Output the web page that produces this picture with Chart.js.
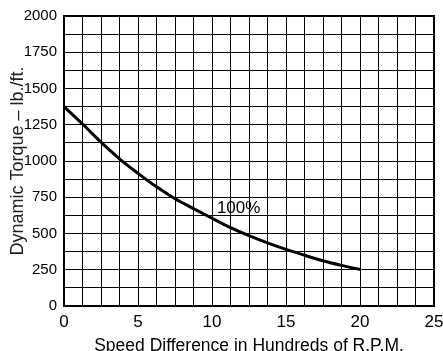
<!DOCTYPE html>
<html>
<head>
<meta charset="utf-8">
<script src="https://cdn.jsdelivr.net/npm/chart.js@4.4.1/dist/chart.umd.min.js"></script>
<style>
  html, body { margin: 0; padding: 0; background: #fff; }
  #wrap { width: 443px; height: 351px; }
</style>
</head>
<body>
<div id="wrap"><canvas id="grafico" width="443" height="351"></canvas></div>
<script>
// dados (rotação em centenas de RPM x torque)
var speed = [0, 1.25, 2.5, 3.75, 5, 6.25, 7.5, 8.75, 10, 11.25, 12.5, 13.75, 15, 16.25, 17.5, 18.75, 20]
var torque = [1375, 1255, 1130, 1015, 915, 822, 740, 672, 605, 540, 485, 435, 390, 350, 312, 280, 252]
var curveLabel = '100%'
var curveLabelAt = [11.8, 676]

var xMax = 25, xStep = 1.25, xLabelEvery = 5
var yMax = 2000, yStep = 125, yLabelEvery = 250

var fonte = "'Liberation Sans', Arial, sans-serif"

var pontos = []
for (var i = 0; i < speed.length; i++) {
    pontos.push({ x: speed[i], y: torque[i] })
}

function makeTicks(max, step) {
    var t = []
    for (var v = 0; v <= max + 1e-9; v += step) t.push({ value: v })
    return t
}

// moldura do grafico e rotulo da curva
var extras = {
    id: 'extras',
    afterDatasetsDraw: function(chart) {
        var ctx = chart.ctx
        var a = chart.chartArea
        ctx.save()
        ctx.strokeStyle = '#000'
        ctx.lineWidth = 2
        ctx.strokeRect(a.left, a.top, a.right - a.left, a.bottom - a.top)
        ctx.fillStyle = '#000'
        ctx.font = '17px ' + fonte
        ctx.textAlign = 'center'
        ctx.textBaseline = 'middle'
        var px = chart.scales.x.getPixelForValue(curveLabelAt[0])
        var py = chart.scales.y.getPixelForValue(curveLabelAt[1])
        ctx.fillText(curveLabel, px, py)
        ctx.restore()
    }
}

var ctx = document.getElementById('grafico')
var chart = new Chart(ctx, {
    type: 'scatter',
    data: {
        datasets: [{
            data: pontos,
            showLine: true,
            borderColor: '#000',
            borderWidth: 3,
            pointRadius: 0,
            cubicInterpolationMode: 'monotone',
            fill: false
        }]
    },
    options: {
        responsive: false,
        animation: false,
        layout: { padding: { top: 16, right: 9, left: 0, bottom: 0 } },
        plugins: {
            legend: { display: false },
            tooltip: { enabled: false }
        },
        scales: {
            x: {
                type: 'linear',
                min: 0,
                max: xMax,
                afterBuildTicks: function(axis) { axis.ticks = makeTicks(xMax, xStep) },
                afterFit: function(axis) {
                    axis.height = 45
                    axis.paddingLeft = 0
                    axis.paddingRight = 0
                },
                ticks: {
                    autoSkip: false,
                    maxRotation: 0,
                    padding: 6,
                    color: '#000',
                    font: { family: fonte, size: 17 },
                    callback: function(v) { return (v % xLabelEvery === 0) ? String(v) : '' }
                },
                grid: { color: '#000', lineWidth: 1, drawTicks: false },
                border: { color: '#000', width: 2 },
                title: {
                    display: true,
                    text: 'Speed Difference in Hundreds of R.P.M.',
                    color: '#000',
                    font: { family: fonte, size: 17.5, lineHeight: 0.6 },
                    padding: { top: 0, bottom: 0 }
                }
            },
            y: {
                type: 'linear',
                min: 0,
                max: yMax,
                afterBuildTicks: function(axis) { axis.ticks = makeTicks(yMax, yStep) },
                afterFit: function(axis) {
                    axis.width = 64
                    axis.paddingTop = 0
                    axis.paddingBottom = 0
                },
                ticks: {
                    autoSkip: false,
                    padding: 7,
                    color: '#000',
                    font: { family: fonte, size: 15 },
                    callback: function(v) { return (v % yLabelEvery === 0) ? String(v) : '' }
                },
                grid: { color: '#000', lineWidth: 1, drawTicks: false },
                border: { color: '#000', width: 2 },
                title: {
                    display: true,
                    text: 'Dynamic Torque \u2013 lb./ft.',
                    color: '#222',
                    font: { family: fonte, size: 18 },
                    padding: { top: 7, bottom: 0 }
                }
            }
        }
    },
    plugins: [extras]
})
</script>
</body>
</html>
